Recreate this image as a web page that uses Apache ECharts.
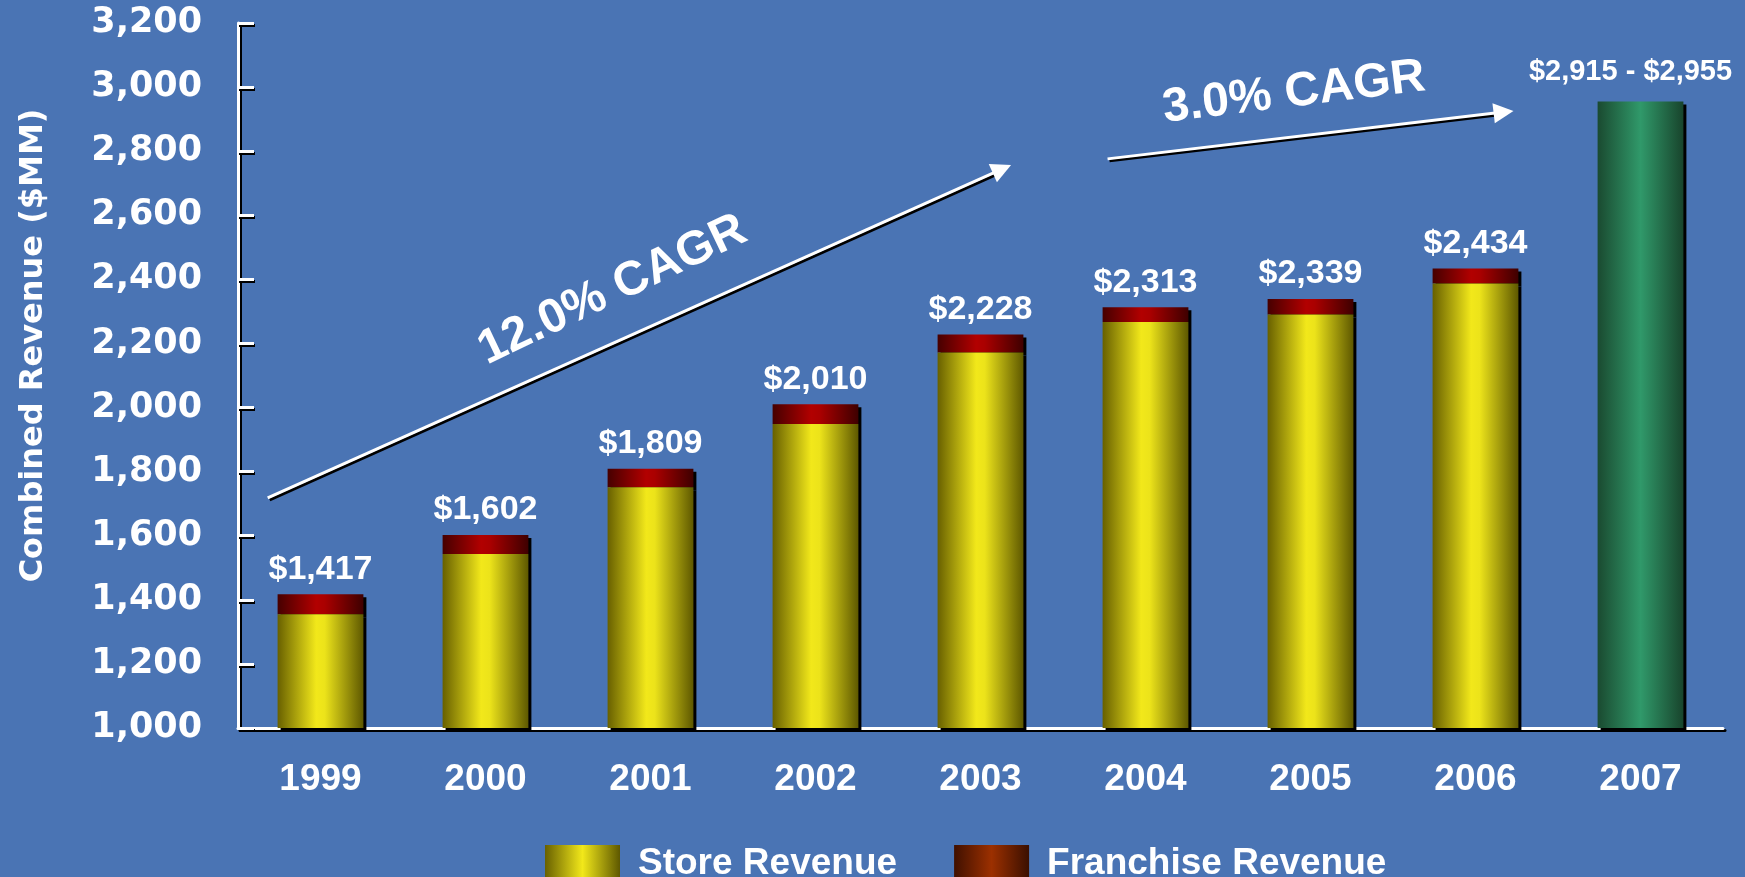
<!DOCTYPE html>
<html>
<head>
<meta charset="utf-8">
<script src="https://cdn.jsdelivr.net/npm/echarts@6/dist/echarts.min.js"></script>
<style>
html,body{margin:0;padding:0;background:#4a74b4;}
#chart{width:1745px;height:877px;}
</style>
</head>
<body>
<div id="chart"></div>
<script>
// ---- data ----
var years = ['1999','2000','2001','2002','2003','2004','2005','2006','2007'];
var storeRevenue = [1355, 1543, 1751, 1949, 2172, 2267, 2290, 2387, '-'];
var franchiseRevenue = [62, 59, 58, 61, 56, 46, 49, 47, '-'];
var projected2007 = ['-', '-', '-', '-', '-', '-', '-', '-', 2955];
var totalLabels = ['$1,417','$1,602','$1,809','$2,010','$2,228','$2,313','$2,339','$2,434',''];
var projectedLabel = '$2,915 - $2,955';
var yTicks = {min: 1000, max: 3200, interval: 200};
// annotation arrows in data units [categoryIndex, value]
var arrow12 = [[-0.32, 1718], [4.13, 2744]];
var arrow3 = [[4.77, 2776], [7.17, 2922]];
var cagrTexts = [
  {text: '12.0% CAGR', at: [1.77, 2366], angle: 25.5},
  {text: '3.0% CAGR', at: [5.90, 2982], angle: 7}
];

var ARIAL = '"Liberation Sans", Arial, sans-serif';
var VERD = '"DejaVu Sans", Verdana, sans-serif';
function hGrad(stops){
  return new echarts.graphic.LinearGradient(0,0,1,0, stops.map(function(s){return {offset:s[0], color:s[1]};}));
}
var yellowG = hGrad([[0,'#686000'],[0.45,'#f2e81a'],[0.55,'#ece31a'],[1,'#5e5800']]);
var redG = hGrad([[0,'#460000'],[0.45,'#b20000'],[0.55,'#aa0000'],[1,'#3e0000']]);
var greenG = hGrad([[0,'#1a4a30'],[0.5,'#30996a'],[1,'#18442c']]);
var brownG = hGrad([[0,'#401000'],[0.5,'#9c3000'],[1,'#3a0f00']]);
var yellowLegend = hGrad([[0,'#686000'],[0.5,'#f2e81a'],[1,'#5e5800']]);

var shadowText = {textShadowColor:'#000', textShadowOffsetX:2, textShadowOffsetY:2, textShadowBlur:0};
var barShadow = {shadowColor:'#000', shadowOffsetX:3, shadowOffsetY:3, shadowBlur:0};

var chart = echarts.init(document.getElementById('chart'));
chart.setOption({
  backgroundColor: '#4a74b4',
  animation: false,
  grid: {left: 238, right: 22, top: 23, bottom: 149},
  legend: {
    left: 540, top: 840,
    itemWidth: 75, itemHeight: 38, itemGap: 57,
    icon: 'rect',
    selectedMode: false,
    data: [
      {name: 'Store Revenue', itemStyle: {color: yellowLegend}},
      {name: 'Franchise Revenue', itemStyle: {color: brownG}}
    ],
    textStyle: Object.assign({color:'#fff', fontFamily: ARIAL, fontWeight:'bold', fontSize: 37, padding:[0,0,0,13]}, shadowText)
  },
  xAxis: [{
    type: 'category',
    data: years,
    axisLine: {onZero:false, lineStyle: {color:'#fff', width:3, shadowColor:'#000', shadowOffsetX:2, shadowOffsetY:2}},
    axisTick: {show:false},
    axisLabel: Object.assign({color:'#fff', fontFamily: ARIAL, fontWeight:'bold', fontSize: 37, margin: 33}, shadowText)
  }, {
    type: 'value', min: -0.5, max: 8.5, show: false
  }],
  yAxis: {
    type: 'value',
    min: yTicks.min, max: yTicks.max, interval: yTicks.interval,
    name: 'Combined Revenue ($MM)',
    nameLocation: 'middle',
    nameGap: 188,
    nameTextStyle: Object.assign({color:'#fff', fontFamily: VERD, fontWeight:'bold', fontSize: 32, padding:[0,0,0,60]}, shadowText),
    splitLine: {show:false},
    axisLine: {show:true, onZero:false, lineStyle: {color:'#fff', width:3, shadowColor:'#000', shadowOffsetX:2, shadowOffsetY:2}},
    axisTick: {show:true, inside:true, length:16, lineStyle:{color:'#fff', width:3, shadowColor:'#000', shadowOffsetX:1, shadowOffsetY:2}},
    axisLabel: Object.assign({color:'#fff', fontFamily: VERD, fontWeight:'bold', fontSize: 35, margin: 36, padding:[6,0,0,0],
      formatter: function(v){ return v.toLocaleString('en-US'); }}, shadowText)
  },
  series: [
    {
      name: 'Store Revenue', type: 'bar', stack: 'rev', z: 3,
      barWidth: '52%',
      data: storeRevenue,
      itemStyle: Object.assign({color: yellowG}, barShadow)
    },
    {
      name: 'Franchise Revenue', type: 'bar', stack: 'rev', z: 2,
      data: franchiseRevenue,
      itemStyle: Object.assign({color: redG}, barShadow),
      label: Object.assign({show:true, position:'top', distance: 8, color:'#fff', fontFamily: ARIAL, fontWeight:'bold', fontSize: 34,
        formatter: function(p){ return totalLabels[p.dataIndex]; }}, shadowText)
    },
    {
      name: 'Projected', type: 'bar', stack: 'rev', z: 3,
      data: projected2007,
      itemStyle: Object.assign({color: greenG}, barShadow),
      label: Object.assign({show:true, position:'top', distance: 15, offset:[-10,0], color:'#fff', fontFamily: ARIAL, fontWeight:'bold', fontSize: 29,
        formatter: function(){ return projectedLabel; }}, shadowText)
    },
    {
      name: 'CAGR arrows', type: 'lines', coordinateSystem: 'cartesian2d',
      xAxisIndex: 1, yAxisIndex: 0, z: 5,
      symbol: ['none', 'triangle'], symbolSize: 20,
      lineStyle: {color:'#fff', width:3, opacity:1, curveness:0, shadowColor:'#000', shadowOffsetX:2, shadowOffsetY:2},
      data: [{coords: arrow12}, {coords: arrow3}]
    }
  ]
});

var gfx = cagrTexts.map(function(t){
  var p = chart.convertToPixel({xAxisIndex:1, yAxisIndex:0}, t.at);
  return {
    type: 'text', x: p[0], y: p[1], rotation: t.angle * Math.PI / 180, z: 10,
    style: {text: t.text, fill:'#fff', font: 'bold 48px ' + ARIAL, align:'center', verticalAlign:'middle',
      textShadowColor:'#000', textShadowOffsetX:3, textShadowOffsetY:3, textShadowBlur:0}
  };
});
chart.setOption({graphic: gfx});
</script>
</body>
</html>
